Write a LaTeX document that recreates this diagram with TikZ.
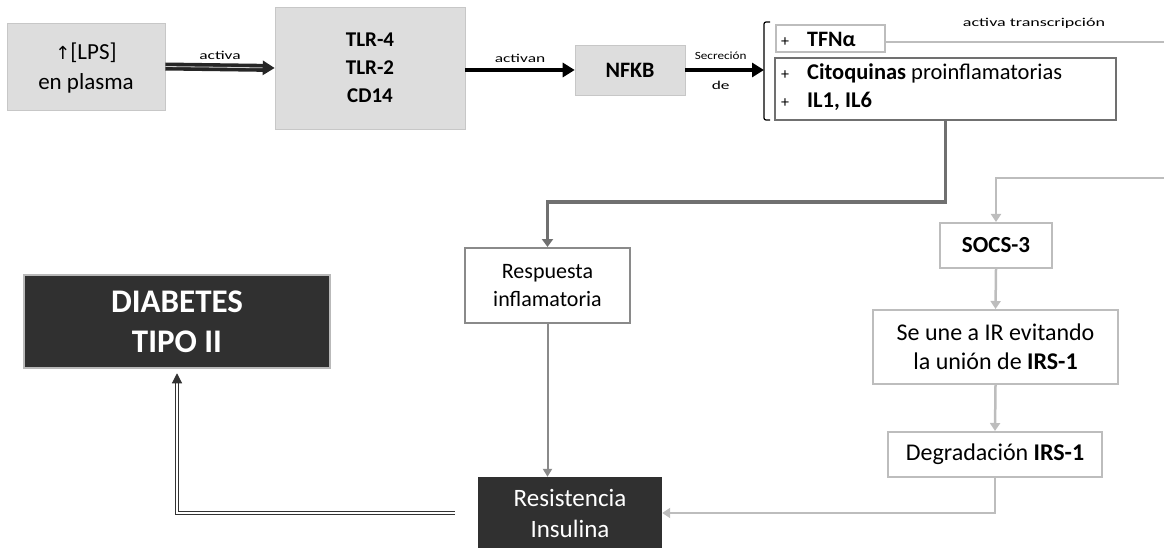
\documentclass[tikz,border=0pt]{standalone}
\usepackage{fontspec}
\setmainfont{Carlito}
\newfontfamily\dejavu{DejaVu Sans}
\usetikzlibrary{arrows.meta,calc}
\definecolor{boxgray}{HTML}{DDDDDD}
\definecolor{darkfill}{HTML}{303030}
\definecolor{lgray}{HTML}{BDBDBD}
\definecolor{mgray}{HTML}{8A8A8A}
\definecolor{dgray}{HTML}{707070}
\begin{document}
\begin{tikzpicture}[x=1pt,y=-1pt,
  graybox/.style={fill=boxgray,draw=boxgray!90!black,line width=0.6pt,inner sep=0pt,align=center},
  whitebox/.style={fill=white,inner sep=0pt,align=center},
  darkbox/.style={fill=darkfill,text=white,inner sep=0pt,align=center},
  blackarrow/.style={draw=black,line width=3.5pt,-{Triangle[length=12pt,width=14pt]}},
  lbl/.style={font=\fontsize{12}{14}\selectfont\addfontfeature{FakeStretch=1.45},inner sep=1pt},
]
\useasboundingbox (0,0) rectangle (1164,548);
% top row
\node[graybox,minimum width=158pt,minimum height=87pt,font=\fontsize{23}{30}\selectfont,text depth=-6pt] (lps) at (86,66.5) {{\dejavu\fontsize{18}{18}\selectfont ↑}[LPS]\\en plasma};
\node[graybox,minimum width=190pt,minimum height=122pt,font=\bfseries\fontsize{21}{28}\selectfont] (tlr) at (370,68) {TLR-4\\TLR-2\\CD14};
\node[graybox,minimum width=110pt,minimum height=50pt,font=\bfseries\fontsize{22}{26}\selectfont] (nfkb) at (630,70) {NFKB};
% bracket
\coordinate (bt) at (770,22);
\coordinate (bb) at (770,120);
\draw[line width=1.2pt,rounded corners=2pt] (bt) -- (764,22) -- (764,120) -- (bb);
\coordinate (bm) at (764,70);
% arrows
\draw[line width=3.6pt,draw=black!85,double=gray!40,double distance=0.8pt,-{Triangle[length=12pt,width=14pt]}] (lps.east) -- (tlr.west) node[midway,above=5pt,lbl]{activa};
\draw[blackarrow] (tlr.east |- nfkb.west) -- (nfkb.west) node[midway,above=5pt,lbl]{activan};
\draw[blackarrow] (nfkb.east) -- (bm) node[pos=0.45,above=8pt,lbl,font=\fontsize{11}{12}\selectfont\addfontfeature{FakeStretch=1.2}]{Secreción} node[pos=0.45,below=8pt,lbl]{de};
% cytokines
\node[draw=lgray,line width=2pt,fill=white,minimum width=109pt,minimum height=27pt,inner sep=0pt,anchor=center] (tfn) at (830.5,38.5) {};
\node[anchor=west,font=\fontsize{22}{24}\selectfont,inner sep=0pt] (tfntxt) at (781,39) {{\fontsize{16}{16}\selectfont +}\hspace{18pt}\textbf{TFNα}};
\node[draw=dgray,line width=1.4pt,fill=white,minimum width=341pt,minimum height=62pt,inner sep=0pt] (cito) at (945.5,89) {};
\node[anchor=west,font=\fontsize{22.5}{24}\selectfont,inner sep=0pt] (cito1) at (781,73) {{\fontsize{16}{16}\selectfont +}\hspace{18pt}\textbf{Citoquinas} proinflamatorias};
\node[anchor=west,font=\fontsize{22.5}{24}\selectfont,inner sep=0pt] (cito2) at (781,101) {{\fontsize{16}{16}\selectfont +}\hspace{18pt}\textbf{IL1, IL6}};
\coordinate (r0) at (1164,42);
\draw[lgray,line width=2.5pt] (tfn.east |- r0) -- (r0);
\node[lbl,font=\fontsize{12}{14}\selectfont\addfontfeature{FakeStretch=1.5}] (trl) at (1034,23) {activa transcripción};
% middle
\node[whitebox,draw=mgray,line width=2pt,minimum width=165pt,minimum height=75pt,font=\fontsize{22}{28}\selectfont] (resp) at (547.5,285.5) {Respuesta\\inflamatoria};
\node[darkbox,minimum width=184pt,minimum height=72pt,font=\fontsize{25}{31}\selectfont] (resis) at (570,513) {Resistencia\\Insulina};
\node[whitebox,draw=lgray,line width=2pt,minimum width=112pt,minimum height=45pt,font=\bfseries\fontsize{23}{26}\selectfont] (socs) at (996,245.5) {SOCS-3};
\node[whitebox,draw=lgray,line width=2pt,minimum width=245pt,minimum height=74pt,font=\fontsize{24}{29}\selectfont] (seune) at (995.5,347) {Se une a IR evitando\\la unión de \textbf{IRS-1}};
\node[whitebox,draw=lgray,line width=2pt,minimum width=214pt,minimum height=45pt,font=\fontsize{24}{26}\selectfont] (degr) at (995,454.5) {Degradación \textbf{IRS-1}};
\node[darkbox,draw=gray!55,line width=2.5pt,minimum width=306pt,minimum height=93pt,font=\bfseries\fontsize{33}{40}\selectfont] (diab) at (177,321.5) {DIABETES\\TIPO II};
% connectors
\draw[dgray,line width=3.5pt,-{Triangle[length=8pt,width=11pt]}] (cito.south) |- ([yshift=45pt]resp.north) -- (resp.north);
\draw[mgray,line width=2pt,-{Triangle[length=8pt,width=9pt]}] (resp.south) -- (resp.south |- resis.north);
\coordinate (r1) at (1164,178);
\draw[lgray,line width=2.5pt,-{Triangle[length=8pt,width=10pt]}] (r1) -| (socs.north);
\draw[lgray,line width=2.5pt,-{Triangle[length=8pt,width=10pt]}] (socs.south) -- (seune.north);
\draw[lgray,line width=2.5pt,-{Triangle[length=8pt,width=10pt]}] (seune.south) -- (degr.north);
\draw[lgray,line width=2pt,-{Triangle[length=8pt,width=10pt]}] (degr.south) |- (resis.east);
\draw[draw=black!80,double=white,double distance=1.2pt,line width=1.1pt,shorten <=23pt,shorten >=4pt,-{Triangle[length=10pt,width=10pt]}] (resis.west) -| (diab.south);
\end{tikzpicture}
\end{document}
